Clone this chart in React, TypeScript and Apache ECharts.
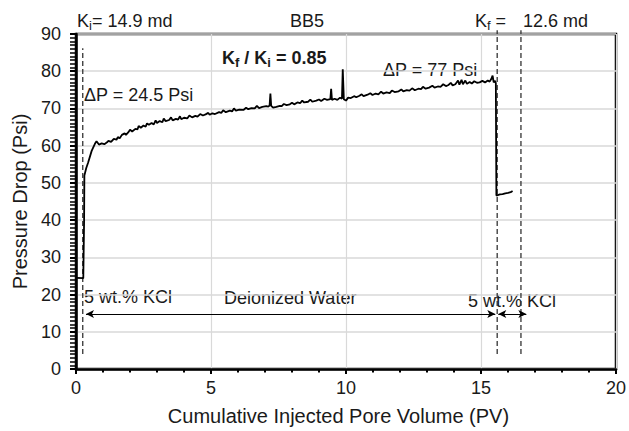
import React, { useEffect, useRef } from "react";
import * as echarts from "echarts";

const FONT = "Liberation Sans, Arial, Helvetica, sans-serif";

// x ticks / y ticks
const xTicks = { min: 0, max: 20, interval: 5 };
const yTicks = { min: 0, max: 90, interval: 10 };

// Pressure drop curve: [PV, Psi]
const pressureCurve: [number, number][] = [
  [0, 24.5], [0.27, 24.4], [0.3, 40], [0.31, 52], [0.38, 54], [0.45, 55.5], [0.58, 58.6],
  [0.7, 60.5], [0.76, 61.2], [0.85, 60.3],
  [0.95, 60.6], [1.05, 60.4], [1.15, 60.9], [1.2, 61.3], [1.3, 61.0], [1.4, 61.8], [1.5, 61.6],
  [1.55, 62.3], [1.62, 62.0], [1.7, 62.9], [1.8, 63.3], [1.85, 62.9], [1.95, 63.7], [2.0, 64.3],
  [2.08, 63.8], [2.2, 64.5], [2.28, 64.4], [2.32, 65.3], [2.4, 64.8], [2.5, 65.4], [2.58, 65.1],
  [2.63, 66.0], [2.7, 65.6], [2.8, 66.1], [2.88, 65.7], [2.95, 66.8], [3.0, 66.1], [3.1, 66.6],
  [3.2, 66.3], [3.25, 67.3], [3.32, 66.6], [3.45, 66.9], [3.52, 67.6], [3.58, 66.8], [3.7, 67.2],
  [3.78, 67.0], [3.85, 67.9], [3.9, 67.1], [4.0, 67.5], [4.12, 67.3], [4.2, 68.1], [4.3, 67.6],
  [4.42, 68.0], [4.5, 67.8], [4.6, 68.5], [4.7, 68.1], [4.8, 68.4], [4.9, 68.8], [4.95, 68.3],
  [5.05, 68.7], [5.15, 68.5], [5.3, 69.0], [5.38, 68.8], [5.45, 69.5], [5.55, 69.0], [5.7, 69.4],
  [5.78, 69.2], [5.85, 70.0], [5.92, 69.4], [6.05, 69.7], [6.2, 69.6], [6.3, 70.2], [6.38, 69.8],
  [6.5, 70.1], [6.62, 70.0], [6.7, 70.7], [6.78, 70.1], [6.9, 70.4], [7.05, 70.6], [7.12, 70.5],
  [7.17, 70.8], [7.2, 74.0], [7.23, 70.7], [7.3, 70.2], [7.42, 70.4], [7.55, 70.7], [7.62, 70.6],
  [7.7, 71.2], [7.8, 70.9], [7.92, 71.1], [8.0, 71.5], [8.08, 71.1], [8.2, 71.6], [8.3, 71.4],
  [8.38, 72.1], [8.45, 71.6], [8.6, 71.8], [8.68, 72.4], [8.75, 71.8], [8.9, 72.1], [9.0, 72.4],
  [9.08, 72.0], [9.2, 72.6], [9.3, 72.3], [9.42, 72.5], [9.45, 75.3], [9.48, 72.3], [9.58, 72.6],
  [9.68, 72.3], [9.78, 72.9], [9.85, 72.6], [9.88, 80.5], [9.92, 72.5], [10.0, 72.1], [10.08, 72.9],
  [10.18, 72.8], [10.3, 73.3], [10.38, 73.0], [10.5, 73.4], [10.58, 73.8], [10.65, 73.3], [10.8, 73.7],
  [10.9, 74.1], [10.98, 73.6], [11.1, 74.0], [11.2, 73.8], [11.3, 74.5], [11.38, 74.0], [11.5, 74.3],
  [11.62, 74.1], [11.7, 74.8], [11.8, 74.4], [11.95, 74.6], [12.05, 75.1], [12.12, 74.6], [12.25, 74.9],
  [12.35, 74.8], [12.45, 75.4], [12.55, 74.9], [12.68, 75.3], [12.78, 75.2], [12.85, 75.8], [12.95, 75.3],
  [13.08, 75.6], [13.2, 76.1], [13.28, 75.6], [13.4, 75.9], [13.5, 75.8], [13.6, 76.5], [13.7, 76.0],
  [13.8, 76.3], [13.88, 76.9], [13.95, 76.2], [14.05, 76.5], [14.15, 77.5], [14.2, 76.4], [14.28, 77.7],
  [14.33, 76.5], [14.42, 77.5], [14.48, 76.6], [14.58, 77.1], [14.66, 76.7], [14.75, 77.3], [14.85, 76.9],
  [14.95, 77.0], [15.05, 77.4], [15.15, 77.0], [15.25, 77.5], [15.32, 77.2], [15.38, 77.9], [15.43, 78.8],
  [15.47, 77.0], [15.52, 77.4], [15.55, 76.8], [15.57, 46.6], [15.7, 46.9], [15.8, 47.0], [15.9, 47.2],
  [16.0, 47.3], [16.1, 47.5], [16.17, 47.8],
];

// dashed marker lines: [x, yBottom, yTop]
const markerLines: [number, number, number][] = [
  [0.25, 4, 86.2],
  [15.6, 4, 91],
  [16.48, 4, 91],
];

// stage arrows: [xStart, xEnd, y]
const stageArrows: [number, number, number][] = [
  [0.37, 15.53, 14.8],
  [15.64, 16.68, 14.8],
];

export default function App() {
  const ref = useRef<HTMLDivElement>(null);
  useEffect(() => {
    if (!ref.current) return;
    const chart = echarts.init(ref.current, undefined, { renderer: "svg" });
    const txt = (x: number, y: number, text: string, extra: any = {}, subSize = 12) => ({
      type: "text",
      x,
      y,
      silent: true,
      style: {
        text,
        fill: "#1a1a1a",
        fontFamily: FONT,
        fontSize: 18,
        verticalAlign: "middle",
        align: "left",
        lineHeight: 22,
        rich: {
          sub: {
            fontSize: subSize,
            verticalAlign: "bottom",
            fontFamily: FONT,
            fill: "#1a1a1a",
            fontWeight: extra.fontWeight || "normal",
          },
        },
        ...extra,
      },
    });
    const dashSeries = markerLines.map((m, i) => ({
      type: "line",
      name: "marker" + i,
      data: [[m[0], m[1]], [m[0], m[2]]],
      symbol: "none",
      clip: false,
      silent: true,
      lineStyle: { color: "#333", width: 1.3, type: [5, 3] },
      z: 3,
    }));
    const option: any = {
      animation: false,
      grid: { left: 76, right: 12, top: 34, bottom: 59, show: true, borderColor: "#000", borderWidth: 2.5 },
      xAxis: {
        type: "value",
        min: xTicks.min,
        max: xTicks.max,
        interval: xTicks.interval,
        name: "Cumulative Injected Pore Volume (PV)",
        nameLocation: "middle",
        nameGap: 37,
        nameTextStyle: { fontFamily: FONT, fontSize: 20, color: "#1a1a1a", padding: [0, 15, 0, 0] },
        axisLine: { show: true, lineStyle: { color: "#000", width: 2.5 } },
        axisTick: { show: true, length: 5, lineStyle: { color: "#000", width: 2 } },
        minorTick: { show: true, splitNumber: 5, length: 3.5, lineStyle: { color: "#000", width: 2 } },
        axisLabel: { fontFamily: FONT, fontSize: 18, color: "#1a1a1a", margin: 10 },
        splitLine: { show: true, lineStyle: { color: "#d9d9d9", width: 1.2 } },
      },
      yAxis: {
        type: "value",
        min: yTicks.min,
        max: yTicks.max,
        interval: yTicks.interval,
        name: "Pressure Drop (Psi)",
        nameLocation: "middle",
        nameGap: 45,
        nameTextStyle: { fontFamily: FONT, fontSize: 20, color: "#1a1a1a" },
        axisLine: { show: true, lineStyle: { color: "#000", width: 2.5 } },
        axisTick: { show: true, length: 6, lineStyle: { color: "#000", width: 2 } },
        minorTick: { show: true, splitNumber: 10, length: 6, lineStyle: { color: "#000", width: 1.5 } },
        axisLabel: { fontFamily: FONT, fontSize: 18, color: "#1a1a1a", margin: 15 },
        splitLine: { show: true, lineStyle: { color: "#d9d9d9", width: 1.5 } },
      },
      series: [
        ...dashSeries,
        {
          type: "line",
          name: "arrows",
          data: [],
          symbol: "none",
          silent: true,
          markLine: {
            silent: true,
            animation: false,
            symbol: ["arrow", "arrow"],
            symbolSize: [6, 8],
            label: { show: false },
            lineStyle: { color: "#000", width: 1, type: "solid" },
            data: stageArrows.map((a) => [{ coord: [a[0], a[2]] }, { coord: [a[1], a[2]] }]),
          },
        },
        {
          type: "line",
          name: "Pressure Drop",
          data: pressureCurve,
          symbol: "none",
          lineStyle: { color: "#000", width: 1.8 },
          z: 5,
        },
      ],
      graphic: [
        txt(77, 21, "K{sub|i}= 14.9 md", {}, 13),
        txt(290, 21, "BB5"),
        txt(475, 21, "K{sub|f} =", {}, 13),
        txt(523, 21, "12.6 md"),
        txt(222, 58, "K{sub|f} / K{sub|i} = 0.85", { fontWeight: "bold", fontSize: 18 }, 13),
        txt(84, 95, "ΔP = 24.5 Psi"),
        txt(383, 70, "ΔP = 77 Psi"),
        txt(84, 297, "5 wt.% KCl"),
        txt(224, 298, "Deionized Water"),
        txt(468, 301, "5 wt.% KCl"),
      ],
    };
    chart.setOption(option);
    return () => chart.dispose();
  }, []);
  return (
    <div
      ref={ref}
      style={{ position: "fixed", left: 0, top: 0, width: 629, height: 431, background: "#fff" }}
    />
  );
}
